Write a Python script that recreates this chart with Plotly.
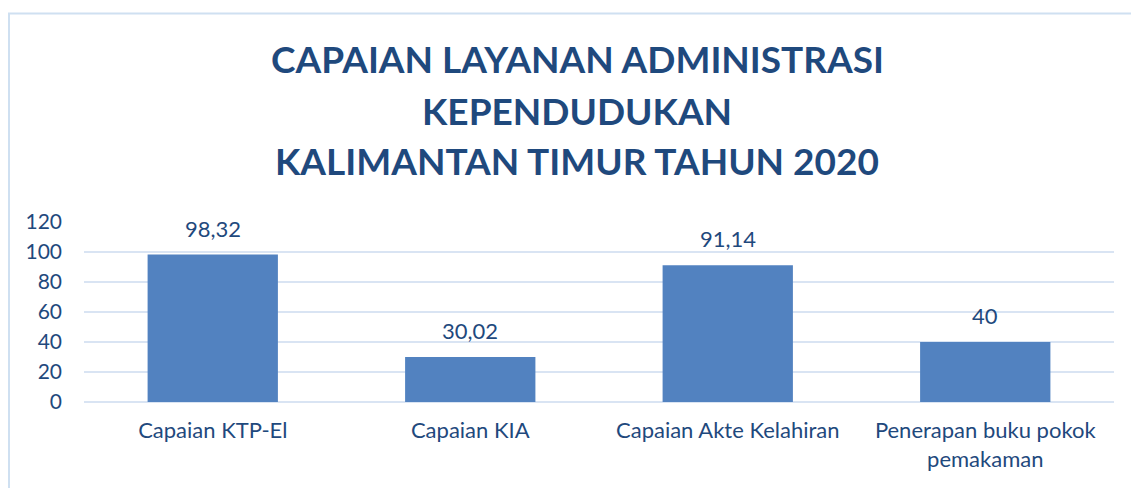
import plotly.graph_objects as go

categories = ["Capaian KTP-El", "Capaian KIA", "Capaian Akte Kelahiran", "Penerapan buku pokok<br>pemakaman"]
values = [98.32, 30.02, 91.14, 40]
value_labels = ["98,32", "30,02", "91,14", "40"]
y_ticks = [0, 20, 40, 60, 80, 100, 120]

title_lines = ["CAPAIAN LAYANAN ADMINISTRASI", "KEPENDUDUKAN", "KALIMANTAN TIMUR TAHUN 2020"]
title_y = [1.906, 1.622, 1.339]

TEXT = "#1F497D"
GRID = "#D9E4F3"

fig = go.Figure()
fig.add_trace(go.Bar(
    x=categories, y=values,
    marker=dict(color="#5282C0", line=dict(width=0)),
    width=0.506,
    hoverinfo="x+y",
))

for c, v, t in zip(categories, values, value_labels):
    fig.add_annotation(x=c, y=v, text=t, showarrow=False, yanchor="bottom", yshift=11,
                       font=dict(family="Lato", size=22, color=TEXT))

for line, yy in zip(title_lines, title_y):
    fig.add_annotation(xref="paper", yref="paper", x=0.479, y=yy, text="<b>" + line + "</b>",
                       showarrow=False, xanchor="center", yanchor="middle",
                       font=dict(family="Lato", size=37, color=TEXT))

fig.update_layout(
    width=1139, height=488,
    margin=dict(l=76, r=33, t=214, b=94),
    paper_bgcolor="white", plot_bgcolor="white",
    showlegend=False,
    xaxis=dict(type="category", showgrid=False, showline=False, ticks="",
               tickfont=dict(family="Lato", size=22, color=TEXT), ticklabelstandoff=13),
    yaxis=dict(range=[0, 120], tickvals=y_ticks, showgrid=True, gridcolor=GRID, gridwidth=2,
               zeroline=True, zerolinecolor=GRID, zerolinewidth=2, showline=False,
               tickfont=dict(family="Lato", size=21, color=TEXT), ticklabelstandoff=21),
    shapes=[dict(type="rect", xref="paper", yref="paper", x0=-0.0728, x1=1.2, y0=-0.7, y1=2.158,
                 line=dict(color="#CFE0F1", width=2), fillcolor="rgba(0,0,0,0)", layer="below")],
)

fig.write_html("out.html")
